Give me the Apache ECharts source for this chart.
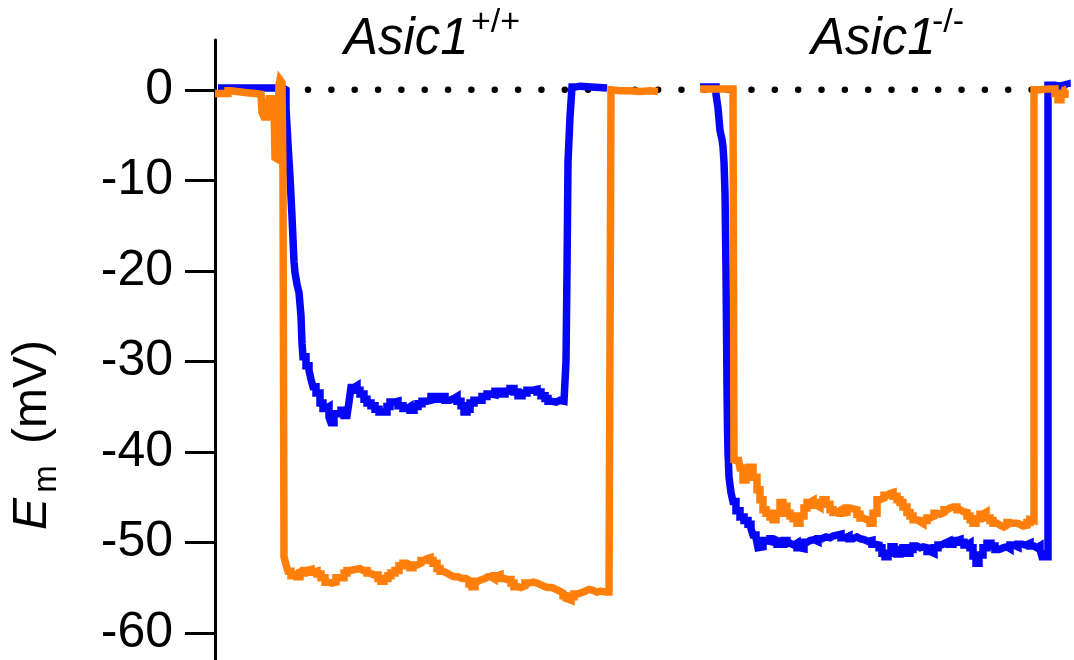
<!DOCTYPE html>
<html>
<head>
<meta charset="utf-8">
<script src="https://cdn.jsdelivr.net/npm/echarts@6/dist/echarts.min.js"></script>
<style>
html,body{margin:0;padding:0;background:#fff;}
#chart{width:1074px;height:660px;}
</style>
</head>
<body>
<div id="chart"></div>
<script>
// Time axis (arbitrary units, hidden in the figure) and membrane potential Em (mV)
const yTicks = [-60, -50, -40, -30, -20, -10, 0];
const panelTitles = ['Asic1', 'Asic1'];
const panelSups = ['+/+', '-/-'];
const baselineT = [2.3, 85.0];
const baselineV = [0, 0];

// Asic1 +/+ : blue trace
const wtBlueT = [0.3,6.0,6.8,7.1,7.3,7.5,7.7,7.9,8.0,8.2,8.4,8.6,8.7,8.8,9.1,9.4,9.6,9.8,10.1,10.5,10.8,11.1,11.4,11.6,11.9,12.3,12.6,12.9,13.2,13.4,13.6,13.9,14.2,14.5,14.9,15.2,15.6,16.0,16.4,16.8,17.2,17.5,17.9,18.3,18.8,19.2,19.5,19.9,20.3,20.7,21.2,21.6,22.0,22.5,23.0,23.5,23.9,24.2,24.6,24.9,25.2,25.5,25.9,26.2,26.7,27.2,27.5,28.0,28.5,29.0,29.5,29.9,30.3,30.7,31.2,31.8,32.2,32.6,33.0,33.3,33.6,34.1,34.5,34.9,35.1,35.2,35.3,35.5,35.7,36.0,36.5,39.2];
const wtBlueV = [0.2,0.2,0.0,-2,-6,-9.6,-14,-19,-20.2,-21.5,-22.4,-25,-28,-29.5,-30.5,-31,-32,-32.8,-33.5,-34.6,-35.2,-35,-36.2,-36.8,-35.8,-35.8,-35.4,-36,-36.1,-34.5,-32.9,-32.7,-33.2,-33.6,-34.2,-34.6,-34.9,-35.3,-35.6,-35.6,-35,-34.5,-34.4,-34.9,-35.2,-35,-35.4,-35,-34.7,-34.4,-34.3,-33.9,-34.2,-33.9,-34.3,-34.1,-33.9,-34.4,-34.9,-35.6,-35.3,-34.6,-34.3,-34.3,-33.9,-33.6,-33.7,-33.3,-33.6,-33.3,-33.0,-33.4,-33.8,-33.5,-33.2,-33.1,-33.4,-33.8,-34.1,-34.4,-34.5,-34.3,-34.4,-34.2,-30,-20,-8,-3,0.3,0.4,0.2,0.2];

// Asic1 +/+ : orange trace
const wtOrangeT = [0.0,1.0,1.3,1.6,3.0,4.0,4.6,4.7,4.9,5.2,5.4,5.7,5.9,6.0,6.2,6.3,6.4,6.5,6.7,6.8,6.9,7.1,7.3,7.6,7.9,8.2,8.5,8.9,9.2,9.6,9.9,10.2,10.6,11.0,11.3,11.7,12.1,12.5,12.9,13.2,13.5,14.0,14.5,14.8,15.2,15.5,15.9,16.3,16.6,16.9,17.3,17.6,18.0,18.4,18.8,19.2,19.5,19.8,20.2,20.6,20.9,21.2,21.5,21.8,22.2,22.5,22.8,23.2,23.5,23.9,24.3,24.7,25.1,25.4,25.7,26.0,26.3,26.7,27.0,27.3,27.6,27.9,28.2,28.5,28.9,29.2,29.6,29.9,30.3,30.6,31.0,31.4,31.8,32.2,32.6,33.0,33.3,33.7,34.1,34.5,34.8,35.1,35.3,35.6,35.9,36.2,36.6,37.0,37.4,37.8,38.2,38.6,39.0,39.4,39.6,39.8,40.5,41.5,42.5,43.5,44.3];
const wtOrangeV = [-0.4,-0.4,-0.1,-0.3,-0.4,-0.5,-0.6,-2.5,-3,-2.8,-1,-0.8,-1.5,-7.5,-7.7,-3,0.5,1.1,0.8,-10,-51.6,-52.5,-53.2,-53.7,-53.5,-53.8,-53.4,-53.1,-53,-53.3,-53.2,-53.5,-53.9,-54.4,-54.5,-54.4,-53.9,-53.9,-53.4,-53.1,-53,-52.9,-53.1,-53.1,-53.4,-53.6,-53.6,-54,-54.3,-54,-53.7,-53.4,-53.1,-52.6,-52.3,-52.5,-52.8,-52.5,-52.3,-52,-51.8,-51.7,-52,-52.3,-52.9,-53.2,-53.4,-53.6,-53.8,-53.8,-54,-54,-54.2,-54.6,-54.9,-54.3,-54.1,-54,-53.8,-53.8,-54,-53.7,-53.6,-54,-54.1,-54.1,-54.5,-54.9,-55,-54.8,-54.5,-54.4,-54.5,-54.7,-54.9,-55,-55,-55.2,-55.4,-55.6,-55.9,-56.2,-56.4,-56,-55.7,-55.6,-55.4,-55.2,-55.3,-55.5,-55.4,-55.5,-55.5,-55.5,0,-0.1,-0.1,-0.2,-0.1,-0.2];

// Asic1 -/- : blue trace
const koBlueT = [48.5,49.8,50.1,50.3,50.5,50.7,50.8,50.9,51.0,51.1,51.15,51.2,51.25,51.3,51.4,51.6,51.8,52.1,52.5,52.9,53.3,53.6,53.8,54.1,54.3,54.5,54.8,55.1,55.5,55.8,56.2,56.9,57.2,57.5,57.9,58.2,58.5,58.9,59.2,59.5,59.9,60.3,60.7,61.1,61.5,61.8,62.2,62.6,63.0,63.4,63.8,64.2,64.5,64.9,65.3,65.7,66.0,66.4,66.7,67.0,67.3,67.6,67.9,68.2,68.5,68.8,69.1,69.5,69.8,70.2,70.5,70.8,71.2,71.5,71.9,72.3,72.6,73.0,73.4,73.8,74.2,74.5,74.9,75.2,75.5,75.8,76.1,76.4,76.8,77.2,77.6,78.0,78.4,78.8,79.2,79.5,79.9,80.3,80.7,81.1,81.5,81.9,82.2,82.5,82.7,83.3,84.0,84.5,85.2];
const koBlueV = [0.3,0.3,-0.5,-2,-4.5,-5.5,-6.3,-8,-11.4,-20,-26.2,-33,-37.3,-40,-42.8,-44.5,-45.5,-46.5,-47.2,-47.6,-48,-48.5,-49.2,-49.5,-50.6,-50.5,-49.8,-49.9,-49.6,-49.8,-50.2,-49.8,-50.1,-50.3,-50.1,-50.6,-50.7,-50,-49.8,-49.7,-49.9,-49.6,-49.4,-49.5,-49.3,-49.2,-49.1,-49.5,-49.3,-49.6,-49.4,-49.6,-49.7,-49.9,-49.8,-50.2,-50.3,-50.6,-51.2,-51.6,-51.2,-50.5,-50.8,-51.3,-51,-50.6,-51.2,-50.8,-50.4,-50.6,-50.5,-50.6,-51,-51.2,-50.6,-50.3,-50.1,-49.9,-50.2,-49.8,-49.7,-50,-50.3,-50.1,-50.6,-51.5,-52.3,-51.4,-50.6,-50.1,-50.4,-50.8,-50.6,-50.5,-50.7,-50.3,-50.5,-50.2,-50.3,-50.1,-50.4,-50.6,-50.4,-50.8,-51.6,0.5,0.4,0.6,0.3,0.5];

// Asic1 -/- : orange trace
const koOrangeT = [48.5,51.8,51.9,52.1,52.3,52.5,52.8,53.1,53.3,53.5,53.8,54.2,54.5,54.8,55.1,55.5,55.8,56.1,56.5,56.8,57.2,57.5,57.8,58.2,58.5,58.9,59.2,59.5,59.8,60.2,60.5,60.8,61.1,61.5,61.8,62.2,62.5,62.8,63.2,63.5,63.8,64.2,64.5,64.8,65.2,65.5,65.8,66.2,66.5,66.9,67.2,67.5,67.8,68.2,68.5,68.8,69.2,69.5,69.8,70.2,70.5,70.8,71.2,71.5,71.9,72.2,72.5,72.9,73.2,73.5,73.8,74.2,74.5,74.8,75.2,75.5,75.8,76.1,76.5,76.8,77.1,77.5,77.8,78.2,78.5,78.9,79.2,79.5,79.8,80.2,80.5,80.8,81.2,81.5,81.7,81.9,82.5,83.3,84.0,84.3,84.6,85.0,85.2];
const koOrangeV = [0.1,0.1,-40.9,-41,-40.6,-41.8,-43.1,-42.3,-41.7,-41.7,-42.8,-44.2,-45.3,-46.4,-46.8,-47.2,-47.5,-46.8,-45.6,-46,-46.8,-47.1,-47.4,-47.9,-47.1,-46.2,-45.6,-45.4,-45.9,-46.1,-45.6,-45.3,-45.8,-46.4,-46.7,-46.5,-46.8,-46.7,-46.2,-46.3,-46.4,-46.9,-47.3,-47.5,-47.6,-47.9,-46.8,-45.3,-45.1,-44.8,-44.6,-44.5,-44.9,-45.3,-45.6,-46.1,-46.7,-47.1,-47.5,-47.7,-47.9,-47.6,-47.3,-47.1,-46.8,-46.9,-46.7,-46.4,-46.2,-46.1,-46.1,-46.4,-46.6,-46.7,-47.1,-47.5,-47.9,-47.4,-46.9,-46.7,-47.3,-47.6,-47.9,-48.1,-48.3,-48.1,-47.8,-47.9,-47.9,-48,-48.2,-48.1,-47.8,-47.5,-47.6,0,0.1,0.1,-0.4,-1.1,-0.5,0,0.1];

function zip(t, v) { return t.map((x, i) => [x, v[i]]); }

const BLUE = '#0505f8';
const ORANGE = '#ff7f0a';
const FONT = 'Liberation Sans, Arial, Helvetica, sans-serif';

const chart = echarts.init(document.getElementById('chart'), null, {renderer: 'canvas'});

function traceSeries(name, t, v, color, z) {
  return {
    name: name, type: 'line', data: zip(t, v), showSymbol: false, symbol: 'none',
    step: 'end',
    lineStyle: {color: color, width: 7.5, join: 'miter'}, z: z, animation: false, silent: true
  };
}

const option = {
  backgroundColor: '#ffffff',
  animation: false,
  grid: {left: 215, right: 0, top: 40, bottom: 0, containLabel: false, outerBoundsMode: 'none'},
  xAxis: {type: 'value', min: 0, max: 85.9, show: false},
  yAxis: {
    type: 'value', min: -63, max: 5.5,
    axisLine: {show: true, onZero: false, lineStyle: {color: '#000', width: 3}},
    axisTick: {show: true, length: 30, lineStyle: {color: '#000', width: 3}, customValues: yTicks},
    axisLabel: {show: true, margin: 42, color: '#000', fontSize: 50, fontFamily: FONT, customValues: yTicks},
    splitLine: {show: false}
  },
  graphic: [
    {type: 'text', x: 344, y: 40, style: {text: panelTitles[0], font: 'italic 51px ' + FONT, fill: '#000', verticalAlign: 'middle', align: 'left'}},
    {type: 'text', x: 471, y: 23, style: {text: panelSups[0], font: '34px ' + FONT, fill: '#000', verticalAlign: 'middle', align: 'left'}},
    {type: 'text', x: 811, y: 40, style: {text: panelTitles[1], font: 'italic 51px ' + FONT, fill: '#000', verticalAlign: 'middle', align: 'left'}},
    {type: 'text', x: 932, y: 23, style: {text: panelSups[1], font: '34px ' + FONT, fill: '#000', verticalAlign: 'middle', align: 'left'}},
    {type: 'text', x: 33, y: 514, rotation: Math.PI / 2, style: {text: 'E', font: 'italic 48px ' + FONT, fill: '#000', verticalAlign: 'middle', align: 'center'}},
    {type: 'text', x: 47, y: 479, rotation: Math.PI / 2, style: {text: 'm', font: '33px ' + FONT, fill: '#000', verticalAlign: 'middle', align: 'center'}},
    {type: 'text', x: 33, y: 392, rotation: Math.PI / 2, style: {text: '(mV)', font: '48px ' + FONT, fill: '#000', verticalAlign: 'middle', align: 'center'}}
  ],
  series: [
    {
      name: 'baseline', type: 'line', data: zip(baselineT, baselineV), showSymbol: false, symbol: 'none',
      lineStyle: {color: '#000', width: 6.5, type: [0.01, 23.33], cap: 'round'}, z: 1, silent: true
    },
    traceSeries('Asic1+/+ blue', wtBlueT, wtBlueV, BLUE, 2),
    traceSeries('Asic1+/+ orange', wtOrangeT, wtOrangeV, ORANGE, 3),
    traceSeries('Asic1-/- blue', koBlueT, koBlueV, BLUE, 2),
    traceSeries('Asic1-/- orange', koOrangeT, koOrangeV, ORANGE, 3)
  ]
};
chart.setOption(option);
</script>
</body>
</html>
